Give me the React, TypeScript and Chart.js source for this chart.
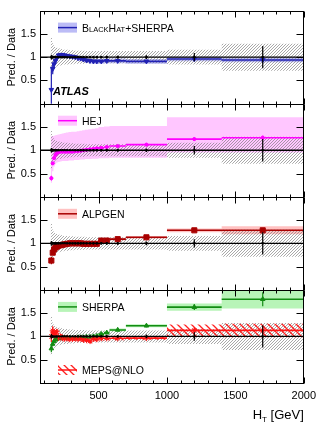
import React, { useEffect, useRef } from "react";
import { Chart, registerables } from "chart.js";
Chart.register(...registerables);

const FONT = '"Liberation Sans", Arial, Helvetica, sans-serif';

// ---- data ----
const binEdges = [150, 160, 170, 180, 190, 200, 215, 230, 245, 260, 280, 300, 320, 340, 360, 380, 400, 425, 450, 475, 500, 540, 580, 700, 1000, 1400, 2000];
const xTicks = [500, 1000, 1500, 2000];
const xMinorTicks = [100, 200, 300, 400, 600, 700, 800, 900, 1100, 1200, 1300, 1400, 1600, 1700, 1800, 1900];
const yTicks = [0.5, 1, 1.5];
const xMin = 72;
const xMax = 2000;
const yMin = 0;
const yMax = 2;
const refLine = 1;

const dataStat = [0.05, 0.03, 0.02, 0.02, 0.015, 0.015, 0.015, 0.015, 0.015, 0.015, 0.015, 0.015, 0.02, 0.02, 0.02, 0.02, 0.02, 0.02, 0.025, 0.025, 0.025, 0.03, 0.03, 0.04, 0.09, 0.24];
const dataSyst = [0.42, 0.3, 0.25, 0.22, 0.2, 0.19, 0.18, 0.17, 0.16, 0.16, 0.15, 0.15, 0.14, 0.14, 0.14, 0.14, 0.13, 0.13, 0.13, 0.13, 0.13, 0.13, 0.13, 0.13, 0.16, 0.29];

const blackhat = [0.3, 0.75, 0.85, 0.92, 0.98, 1.04, 1.05, 1.05, 1.04, 1.03, 1.02, 1.01, 1.0, 0.98, 0.97, 0.95, 0.93, 0.92, 0.91, 0.91, 0.91, 0.92, 0.92, 0.91, 0.96, 0.94];
const blackhatErr = [0.5, 0.12, 0.08, 0.05, 0.03, 0.02, 0.02, 0.02, 0.02, 0.02, 0.02, 0.02, 0.02, 0.02, 0.02, 0.02, 0.02, 0.02, 0.02, 0.02, 0.02, 0.02, 0.02, 0.02, 0.03, 0.05];
const blackhatBand = [0.1, 0.08, 0.06, 0.05, 0.05, 0.05, 0.05, 0.05, 0.05, 0.05, 0.05, 0.05, 0.05, 0.05, 0.05, 0.05, 0.05, 0.05, 0.05, 0.05, 0.05, 0.05, 0.05, 0.05, 0.05, 0.05];

const hej = [0.4, 0.72, 0.83, 0.9, 0.94, 0.96, 0.97, 0.97, 0.97, 0.97, 0.97, 0.97, 0.98, 0.98, 0.99, 1.0, 1.01, 1.02, 1.03, 1.04, 1.05, 1.07, 1.09, 1.12, 1.24, 1.27];
const hejErr = [0.05, 0.03, 0.02, 0.02, 0.01, 0.01, 0.01, 0.01, 0.01, 0.01, 0.01, 0.01, 0.01, 0.01, 0.01, 0.01, 0.01, 0.01, 0.01, 0.01, 0.01, 0.01, 0.01, 0.01, 0.03, 0.04];
const hejLow = [0.3, 0.55, 0.65, 0.7, 0.73, 0.75, 0.76, 0.77, 0.77, 0.77, 0.78, 0.78, 0.79, 0.79, 0.8, 0.8, 0.81, 0.81, 0.82, 0.82, 0.83, 0.83, 0.84, 0.84, 0.95, 0.95];
const hejHigh = [1.3, 1.3, 1.31, 1.32, 1.33, 1.34, 1.35, 1.36, 1.37, 1.38, 1.39, 1.4, 1.4, 1.41, 1.42, 1.43, 1.44, 1.45, 1.46, 1.47, 1.5, 1.51, 1.52, 1.52, 1.71, 1.71];

const alpgen = [0.63, 0.8, 0.87, 0.91, 0.93, 0.95, 0.96, 0.97, 0.98, 0.99, 1.0, 1.0, 1.0, 1.0, 1.0, 0.99, 0.99, 0.99, 0.99, 0.99, 1.06, 1.06, 1.09, 1.13, 1.28, 1.28];
const alpgenErr = [0.08, 0.04, 0.03, 0.02, 0.01, 0.01, 0.01, 0.01, 0.01, 0.01, 0.01, 0.01, 0.01, 0.01, 0.01, 0.01, 0.01, 0.01, 0.01, 0.01, 0.01, 0.01, 0.01, 0.01, 0.02, 0.03];
const alpgenBand = [0.04, 0.03, 0.03, 0.03, 0.03, 0.03, 0.03, 0.03, 0.03, 0.03, 0.03, 0.03, 0.03, 0.03, 0.03, 0.03, 0.03, 0.03, 0.03, 0.03, 0.03, 0.03, 0.03, 0.03, 0.04, 0.085];

const sherpa = [0.74, 0.84, 0.9, 0.93, 0.95, 0.96, 0.96, 0.97, 0.97, 0.97, 0.97, 0.97, 0.97, 0.98, 0.98, 0.98, 0.99, 0.99, 1.0, 1.01, 1.05, 1.08, 1.14, 1.23, 1.63, 1.8];
const sherpaErr = [0.08, 0.05, 0.03, 0.02, 0.02, 0.02, 0.02, 0.02, 0.02, 0.02, 0.02, 0.02, 0.02, 0.02, 0.02, 0.02, 0.02, 0.02, 0.02, 0.02, 0.02, 0.02, 0.02, 0.03, 0.06, 0.15];
const sherpaBand = [0.04, 0.03, 0.03, 0.03, 0.03, 0.03, 0.03, 0.03, 0.03, 0.03, 0.03, 0.03, 0.03, 0.03, 0.03, 0.03, 0.03, 0.03, 0.03, 0.03, 0.03, 0.03, 0.03, 0.03, 0.08, 0.2];

const meps = [1.0, 1.12, 1.08, 1.05, 1.1, 0.97, 1.0, 0.96, 0.95, 0.97, 0.94, 0.95, 0.96, 0.94, 0.96, 0.93, 0.92, 0.9, 0.95, 0.94, 0.96, 0.96, 0.96, 0.965, 1.13, 1.13];
const mepsErr = [0.12, 0.1, 0.08, 0.07, 0.06, 0.05, 0.05, 0.04, 0.04, 0.04, 0.04, 0.04, 0.04, 0.04, 0.04, 0.04, 0.04, 0.04, 0.04, 0.04, 0.03, 0.03, 0.03, 0.03, 0.06, 0.1];
const mepsBand = [0.08, 0.07, 0.06, 0.06, 0.05, 0.05, 0.05, 0.05, 0.05, 0.05, 0.05, 0.05, 0.05, 0.05, 0.05, 0.05, 0.05, 0.05, 0.05, 0.05, 0.04, 0.04, 0.04, 0.035, 0.125, 0.145];

// ---- helpers ----
const centers = binEdges.slice(0, -1).map((e, i) => (e + binEdges[i + 1]) / 2);
function stepPts(vals: number[]) {
  const pts: any[] = [];
  vals.forEach((v, i) => {
    pts.push({ x: binEdges[i], y: v });
    pts.push({ x: binEdges[i + 1], y: v });
  });
  return pts;
}
function segPts(vals: number[]) {
  const pts: any[] = [];
  vals.forEach((v, i) => {
    pts.push({ x: binEdges[i], y: v });
    pts.push({ x: binEdges[i + 1], y: v });
    pts.push({ x: binEdges[i + 1], y: null });
  });
  return pts;
}
function centerPts(vals: number[]) {
  return vals.map((v, i) => ({ x: centers[i], y: v }));
}

function makeHatch(ctx: CanvasRenderingContext2D, color: string, size: number, lw: number, dir: number) {
  const c = document.createElement("canvas");
  c.width = size;
  c.height = size;
  const g = c.getContext("2d")!;
  g.strokeStyle = color;
  g.lineWidth = lw;
  g.beginPath();
  if (dir > 0) {
    g.moveTo(-1, 1); g.lineTo(1, -1);
    g.moveTo(0, size); g.lineTo(size, 0);
    g.moveTo(size - 1, size + 1); g.lineTo(size + 1, size - 1);
  } else {
    g.moveTo(-1, size - 1); g.lineTo(1, size + 1);
    g.moveTo(0, 0); g.lineTo(size, size);
    g.moveTo(size - 1, -1); g.lineTo(size + 1, 1);
  }
  g.stroke();
  return ctx.createPattern(c, "repeat")!;
}

export default function App() {
  const ref = useRef<HTMLCanvasElement>(null);
  useEffect(() => {
    const canvas = ref.current!;
    const ctx0 = canvas.getContext("2d")!;
    const greyHatch = makeHatch(ctx0, "rgba(120,120,120,0.85)", 3, 0.75, 1);
    const redHatch = makeHatch(ctx0, "#ff2020", 7, 1.3, -1);

    const bh = { name: "bh", vals: blackhat, err: blackhatErr, lo: blackhat.map((v, i) => v - blackhatBand[i]), hi: blackhat.map((v, i) => v + blackhatBand[i]), color: "#2222b4", fill: "#bcbcf6", style: "triangle", radius: 2.6, rot: 180, bandOrder: 50, lineOrder: 30 };
    const hj = { name: "hej", vals: hej, err: hejErr, lo: hejLow, hi: hejHigh, color: "#ff00ff", fill: "#ffc6ff", style: "circle", radius: 1.6, rot: 0, bandOrder: 50, lineOrder: 30 };
    const al = { name: "alp", vals: alpgen, err: alpgenErr, lo: alpgen.map((v, i) => v - alpgenBand[i]), hi: alpgen.map((v, i) => v + alpgenBand[i]), color: "#a80000", fill: "#ffc2c2", style: "rect", radius: 3.6, rot: 0, bandOrder: 50, lineOrder: 30 };
    const sh = { name: "sh", vals: sherpa, err: sherpaErr, lo: sherpa.map((v, i) => v - sherpaBand[i]), hi: sherpa.map((v, i) => v + sherpaBand[i]), color: "#138c13", fill: "#b8f4b8", style: "triangle", radius: 2.6, rot: 0, bandOrder: 50, lineOrder: 30 };
    const mp = { name: "meps", vals: meps, err: mepsErr, lo: meps.map((v, i) => v - mepsBand[i]), hi: meps.map((v, i) => v + mepsBand[i]), color: "#ff1515", fill: redHatch, style: "star", radius: 3, rot: 0, bandOrder: 35, lineOrder: 26 };

    const panels = [
      { id: "y1", weight: 4, series: [bh], legends: [{ s: bh, text: [["B", 1], ["LACK", 0], ["H", 1], ["AT", 0], ["+SHERPA", 1]], at: "top" }] },
      { id: "y2", weight: 3, series: [hj], legends: [{ s: hj, text: [["HEJ", 1]], at: "top" }] },
      { id: "y3", weight: 2, series: [al], legends: [{ s: al, text: [["ALPGEN", 1]], at: "top" }] },
      { id: "y4", weight: 1, series: [sh, mp], legends: [{ s: sh, text: [["SHERPA", 1]], at: "top" }, { s: mp, text: [["MEPS@NLO", 1]], at: "bottom" }] },
    ];

    const datasets: any[] = [];
    const noLine = "rgba(0,0,0,0)";
    panels.forEach((p) => {
      p.series.forEach((s: any) => {
        datasets.push({ yAxisID: p.id, data: stepPts(s.lo), borderColor: noLine, borderWidth: 0, pointRadius: 0, fill: false, order: s.bandOrder });
        datasets.push({ yAxisID: p.id, data: stepPts(s.hi), borderColor: noLine, borderWidth: 0, pointRadius: 0, fill: "-1", backgroundColor: s.fill, order: s.bandOrder });
      });
      datasets.push({ yAxisID: p.id, data: stepPts(dataSyst.map((d) => refLine - d)), borderColor: noLine, borderWidth: 0, pointRadius: 0, fill: false, order: 40 });
      datasets.push({ yAxisID: p.id, data: stepPts(dataSyst.map((d) => refLine + d)), borderColor: noLine, borderWidth: 0, pointRadius: 0, fill: "-1", backgroundColor: greyHatch, order: 40 });
      p.series.forEach((s: any) => {
        datasets.push({ yAxisID: p.id, data: segPts(s.vals), borderColor: s.color, borderWidth: 1.6, pointRadius: 0, fill: false, spanGaps: false, order: s.lineOrder });
        datasets.push({ yAxisID: p.id, data: centerPts(s.vals), showLine: false, pointStyle: s.style, pointRadius: s.radius, pointRotation: s.rot, pointBackgroundColor: s.color, pointBorderColor: s.color, pointBorderWidth: 1, order: s.lineOrder - 1 });
      });
      datasets.push({ yAxisID: p.id, data: centerPts(dataStat.map(() => refLine)), showLine: false, pointStyle: "circle", pointRadius: 1.3, pointBackgroundColor: "#000", pointBorderColor: "#000", pointBorderWidth: 0, order: 5 });
    });

    const scales: any = {
      x: {
        type: "linear", position: "bottom", min: xMin, max: xMax,
        afterBuildTicks: (s: any) => { s.ticks = xTicks.map((v) => ({ value: v })); },
        afterFit: (s: any) => { s.height = 39; },
        grid: { display: false, drawTicks: false }, border: { display: false },
        ticks: { padding: 6, color: "#000", maxRotation: 0, autoSkip: false, font: { family: FONT, size: 11 }, callback: (v: any) => String(v) },
      },
    };
    panels.forEach((p) => {
      scales[p.id] = {
        type: "linear", position: "left", stack: "panels", stackWeight: 1, weight: p.weight, min: yMin, max: yMax,
        afterBuildTicks: (s: any) => { s.ticks = yTicks.map((v) => ({ value: v })); },
        afterFit: (s: any) => { s.width = 40; },
        grid: { display: false, drawTicks: false }, border: { display: false },
        ticks: { padding: 4, color: "#000", font: { family: FONT, size: 11 }, callback: (v: any) => String(v) },
        title: { display: true, text: "Pred. / Data", color: "#000", font: { family: FONT, size: 11 }, padding: { top: 5, bottom: 0 } },
      };
    });

    const vLine = (ctx: CanvasRenderingContext2D, x: number, y0: number, y1: number) => {
      ctx.beginPath(); ctx.moveTo(x, y0); ctx.lineTo(x, y1); ctx.stroke();
    };
    const hLine = (ctx: CanvasRenderingContext2D, x0: number, x1: number, y: number) => {
      ctx.beginPath(); ctx.moveTo(x0, y); ctx.lineTo(x1, y); ctx.stroke();
    };

    const overlay = {
      id: "overlay",
      afterDatasetsDraw(chart: any) {
        const ctx = chart.ctx as CanvasRenderingContext2D;
        const ca = chart.chartArea;
        const xs = chart.scales.x;
        panels.forEach((p) => {
          const ys = chart.scales[p.id];
          const top = ys.top, bot = ys.bottom;
          ctx.save();
          ctx.beginPath(); ctx.rect(ca.left, top, ca.right - ca.left, bot - top); ctx.clip();
          p.series.forEach((s: any) => {
            ctx.strokeStyle = s.color; ctx.lineWidth = 1.2;
            s.err.forEach((e: number, i: number) => {
              if (!e) return;
              vLine(ctx, xs.getPixelForValue(centers[i]), ys.getPixelForValue(s.vals[i] - e), ys.getPixelForValue(s.vals[i] + e));
            });
          });
          ctx.strokeStyle = "#000"; ctx.lineWidth = 1.3;
          hLine(ctx, ca.left, ca.right, ys.getPixelForValue(refLine));
          ctx.lineWidth = 1.2;
          dataStat.forEach((e, i) => {
            vLine(ctx, xs.getPixelForValue(centers[i]), ys.getPixelForValue(refLine - e), ys.getPixelForValue(refLine + e));
          });
          ctx.restore();

          // frame
          ctx.save();
          ctx.strokeStyle = "#000"; ctx.lineWidth = 1;
          const L = Math.round(ca.left) + 0.5, R = Math.round(ca.right) - 0.5;
          const T = Math.round(top) + 0.5, B = Math.round(bot) + 0.5;
          ctx.strokeRect(L, T, R - L, B - T);
          // x ticks
          xTicks.forEach((v) => {
            const x = Math.round(xs.getPixelForValue(v)) + 0.5;
            vLine(ctx, x, T, T + 6); vLine(ctx, x, B, B - 6);
          });
          xMinorTicks.forEach((v) => {
            const x = Math.round(xs.getPixelForValue(v)) + 0.5;
            if (x <= L + 1) return;
            vLine(ctx, x, T, T + 3); vLine(ctx, x, B, B - 3);
          });
          yTicks.forEach((v) => {
            const y = Math.round(ys.getPixelForValue(v)) + 0.5;
            hLine(ctx, L, L + 7, y); hLine(ctx, R, R - 7, y);
          });
          ctx.restore();
        });
      },
      afterDraw(chart: any) {
        const ctx = chart.ctx as CanvasRenderingContext2D;
        const ca = chart.chartArea;
        ctx.save();
        panels.forEach((p) => {
          const ys = chart.scales[p.id];
          p.legends.forEach((lg: any) => {
            const cy = lg.at === "top" ? ys.top + 17 : ys.bottom - 13;
            const x0 = ca.left + 18;
            ctx.fillStyle = lg.s.fill;
            ctx.fillRect(x0, cy - 5, 19, 10);
            ctx.strokeStyle = lg.s.color; ctx.lineWidth = 1.5;
            hLine(ctx, x0, x0 + 19, cy);
            let tx = ca.left + 42;
            ctx.fillStyle = "#000"; ctx.textBaseline = "alphabetic"; ctx.textAlign = "left";
            lg.text.forEach(([t, big]: any) => {
              ctx.font = `${big ? 10.5 : 7.5}px ${FONT}`;
              ctx.fillText(t, tx, cy + 4);
              tx += ctx.measureText(t).width;
            });
          });
        });
        // ATLAS label
        const y1 = chart.scales.y1;
        ctx.font = `italic bold 11px ${FONT}`;
        ctx.fillStyle = "#000"; ctx.textAlign = "left"; ctx.textBaseline = "alphabetic";
        ctx.fillText("ATLAS", ca.left + 13, y1.bottom - 8.5);
        // x title H_T [GeV]
        const parts: [string, number, number][] = [["H", 13, 0], ["T", 8, 3], [" [GeV]", 13, 0]];
        let w = 0;
        parts.forEach(([t, sz]) => { ctx.font = `${sz}px ${FONT}`; w += ctx.measureText(t).width; });
        let x = ca.right - w;
        const base = 419;
        parts.forEach(([t, sz, dy]) => { ctx.font = `${sz}px ${FONT}`; ctx.fillText(t, x, base + dy); x += ctx.measureText(t).width; });
        ctx.restore();
      },
    };

    const chart = new Chart(canvas, {
      type: "line",
      data: { datasets },
      options: {
        responsive: false,
        animation: false,
        devicePixelRatio: 1,
        events: [],
        layout: { padding: { top: 7, right: 13, left: 0, bottom: 0 } },
        plugins: { legend: { display: false }, tooltip: { enabled: false } },
        scales,
      },
      plugins: [overlay],
    } as any);
    return () => chart.destroy();
  }, []);
  return (
    <div style={{ position: "absolute", left: 0, top: 0, width: 322, height: 422, background: "#fff" }}>
      <canvas ref={ref} width={322} height={422} style={{ display: "block", width: 322, height: 422 }} />
    </div>
  );
}
